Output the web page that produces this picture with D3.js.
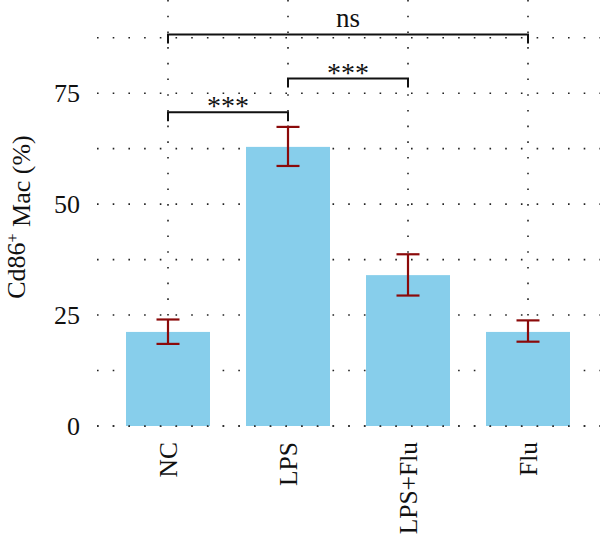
<!DOCTYPE html>
<html>
<head>
<meta charset="utf-8">
<script src="https://cdn.jsdelivr.net/npm/d3@7"></script>
<style>
  body { margin: 0; background: #fff; }
</style>
</head>
<body>
<div id="chart"></div>
<script>
// data
var groups = ["NC", "LPS", "LPS+Flu", "Flu"];
var means = [21.2, 62.9, 34.0, 21.2];
var errHigh = [24.0, 67.4, 38.7, 23.8];
var errLow = [18.5, 58.6, 29.4, 19.0];
var yTicks = [0, 25, 50, 75];
var gridTicks = [0, 12.5, 25, 37.5, 50, 62.5, 75, 87.5];
var brackets = [
    { from: "NC", to: "LPS", y: 70.7, label: "***" },
    { from: "LPS", to: "LPS+Flu", y: 78.3, label: "***" },
    { from: "NC", to: "Flu", y: 88.2, label: "ns" }
];

var width = 600, height = 538;
var plot = { left: 97, right: 600, top: 0, bottom: 426 };
var serif = "'Liberation Serif', 'Times New Roman', 'DejaVu Serif', serif";

var svg = d3.select("#chart").append("svg")
    .attr("width", width)
    .attr("height", height)
    .attr("font-family", serif)
    .style("font-family", serif);

var x = d3.scaleBand()
    .domain(groups)
    .range([108, 588])
    .paddingInner(0.3)
    .paddingOuter(0.15);

var y = d3.scaleLinear()
    .domain([0, 96])
    .range([plot.bottom, plot.top]);

var cx = function (g) { return x(g) + x.bandwidth() / 2; };

// dotted grid
var grid = svg.append("g").attr("class", "grid")
    .style("stroke", "#222")
    .style("stroke-width", "1.6px")
    .style("stroke-dasharray", "1.6 14.1");

grid.selectAll("line.h")
    .data(gridTicks)
    .enter().append("line")
    .attr("class", "h")
    .attr("x1", plot.left)
    .attr("x2", plot.right)
    .attr("y1", function (d) { return y(d); })
    .attr("y2", function (d) { return y(d); });

grid.selectAll("line.v")
    .data(groups)
    .enter().append("line")
    .attr("class", "v")
    .attr("x1", cx)
    .attr("x2", cx)
    .attr("y1", plot.top)
    .attr("y2", plot.bottom);

// bars
svg.selectAll("rect.bar")
    .data(groups)
    .enter().append("rect")
    .attr("class", "bar")
    .attr("x", function (d) { return x(d); })
    .attr("width", x.bandwidth())
    .attr("y", function (d, i) { return y(means[i]); })
    .attr("height", function (d, i) { return y(0) - y(means[i]); })
    .style("fill", "#87CEEB");

// zero line dots sit on top of the bars
svg.append("line")
    .attr("x1", plot.left).attr("x2", plot.right)
    .attr("y1", y(0)).attr("y2", y(0))
    .style("stroke", "#222")
    .style("stroke-width", "1.6px")
    .style("stroke-dasharray", "1.6 14.1");

// error bars
var capW = 11.5;
var err = svg.append("g")
    .style("stroke", "#8B0A0A")
    .style("stroke-width", "2.2px");

groups.forEach(function (g, i) {
    err.append("line")
        .attr("x1", cx(g)).attr("x2", cx(g))
        .attr("y1", y(errHigh[i])).attr("y2", y(errLow[i]));
    err.append("line")
        .attr("x1", cx(g) - capW).attr("x2", cx(g) + capW)
        .attr("y1", y(errHigh[i])).attr("y2", y(errHigh[i]));
    err.append("line")
        .attr("x1", cx(g) - capW).attr("x2", cx(g) + capW)
        .attr("y1", y(errLow[i])).attr("y2", y(errLow[i]));
});

// significance brackets
var sig = svg.append("g");
brackets.forEach(function (b) {
    var x1 = cx(b.from), x2 = cx(b.to), yy = y(b.y);
    sig.append("path")
        .attr("d", "M" + x1 + "," + (yy + 9) + "V" + yy + "H" + x2 + "V" + (yy + 9))
        .style("fill", "none")
        .style("stroke", "#111")
        .style("stroke-width", "2px");
    sig.append("text")
        .attr("x", (x1 + x2) / 2)
        .attr("y", b.label == "ns" ? yy - 8 : yy + 3)
        .attr("text-anchor", "middle")
        .style("fill", "#111")
        .style("font-size", b.label == "ns" ? "27px" : "28px")
        .text(b.label);
});

// y axis labels
svg.append("g")
    .selectAll("text")
    .data(yTicks)
    .enter().append("text")
    .attr("x", 80)
    .attr("y", function (d) { return y(d); })
    .attr("dy", "0.35em")
    .attr("text-anchor", "end")
    .style("fill", "#111")
    .style("font-size", "26px")
    .text(function (d) { return d; });

// x axis labels
svg.append("g")
    .selectAll("text")
    .data(groups)
    .enter().append("text")
    .attr("transform", function (d) { return "translate(" + cx(d) + ",442) rotate(-90)"; })
    .attr("dy", "0.35em")
    .attr("text-anchor", "end")
    .style("fill", "#111")
    .style("font-size", "25.5px")
    .text(function (d) { return d; });

// y title
var title = svg.append("text")
    .attr("transform", "translate(25,217) rotate(-90)")
    .attr("text-anchor", "middle")
    .style("fill", "#111")
    .style("font-size", "26px");
title.append("tspan").text("Cd86");
title.append("tspan").attr("dy", "-0.45em").style("font-size", "16px").text("+");
title.append("tspan").attr("dy", "0.45em").text(" Mac (%)");
</script>
</body>
</html>
